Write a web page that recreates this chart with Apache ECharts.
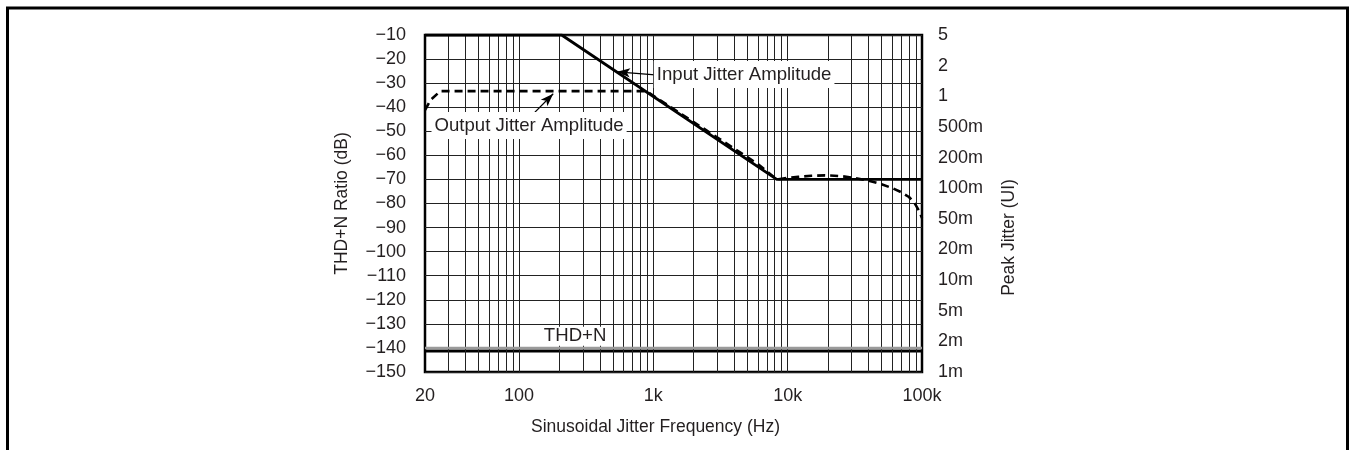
<!DOCTYPE html>
<html>
<head>
<meta charset="utf-8">
<script src="https://cdn.jsdelivr.net/npm/echarts@6/dist/echarts.min.js"></script>
<style>
html,body{margin:0;padding:0;background:#fff;}
#c{width:1350px;height:450px;}
</style>
</head>
<body>
<div id="c"></div>
<script>
// ---- data ----
const inputFreq = [20, 208, 8300, 100000];
const inputDb   = [-10, -10, -70, -70];

const outputFreq = [20, 22, 26, 886, 3000, 6000, 8300, 10000, 12000, 15000, 19000, 25000, 32000, 40000, 50000, 60000, 70000, 80000, 88000, 95000, 100000];
const outputDb   = [-41.2, -37, -33.3, -33.3, -52.6, -63.6, -70, -69.4, -68.9, -68.5, -68.3, -68.6, -69.5, -70.5, -72, -73.6, -75.3, -77.3, -79.8, -83, -86];

const thdFreq = [20, 100000];
const thdDb   = [-141.3, -141.3];
const thdRefDb = [-140, -140];

const xTickLabels = {20: '20', 100: '100', 1000: '1k', 10000: '10k', 100000: '100k'};
const jitterLabels = ['1m', '2m', '5m', '10m', '20m', '50m', '100m', '200m', '500m', '1', '2', '5'];
const gridFreqs = [30,40,50,60,70,80,90,100,200,300,400,500,600,700,800,900,
  1000,2000,3000,4000,5000,6000,7000,8000,9000,
  10000,20000,30000,40000,50000,60000,70000,80000,90000];

// annotation anchors (data coords)
const inputArrow  = [[1032, -26.6], [538, -25.3]];
const outputArrow = [[121, -44.1], [180, -34.4]];
const inputLabelPos  = [4743, -26.4];
const outputLabelPos = [119, -47.6];
const thdLabelPos    = [262, -135.1];

const pair = (xs, ys) => xs.map((x, i) => [x, ys[i]]);
const txt = '#231f20';
const font = '"Liberation Sans", Arial, Helvetica, sans-serif';
const annSize = 18.6;

const chart = echarts.init(document.getElementById('c'), null, {renderer: 'canvas'});
chart.setOption({
  animation: false,
  backgroundColor: '#fff',
  textStyle: {fontFamily: font, color: txt},
  grid: {left: 425, right: 428, top: 35, bottom: 78, show: true, borderColor: '#000', borderWidth: 2.5, backgroundColor: 'transparent'},
  xAxis: {
    type: 'log', logBase: 10, min: 20, max: 100000,
    axisLine: {show: false}, axisTick: {show: false},
    splitLine: {show: false}, minorSplitLine: {show: false},
    axisLabel: {
      color: txt, fontSize: 18, fontFamily: font, margin: 15, showMinLabel: true, showMaxLabel: true,
      formatter: v => { const r = Math.round(v); return xTickLabels[r] !== undefined ? xTickLabels[r] : ''; }
    },
    name: 'Sinusoidal Jitter Frequency (Hz)', nameLocation: 'middle', nameGap: 46,
    nameTextStyle: {color: txt, fontSize: 17.5, fontFamily: font, padding: [0, 36, 0, 0]}
  },
  yAxis: [{
    type: 'value', min: -150, max: -10, interval: 10,
    axisLine: {show: false}, axisTick: {show: false},
    splitLine: {show: true, lineStyle: {color: '#222', width: 1}},
    axisLabel: {color: txt, fontSize: 18, fontFamily: font, margin: 19,
      formatter: v => String(v).replace('-', '\u2212')},
    name: 'THD+N Ratio (dB)', nameLocation: 'middle', nameGap: 74, nameRotate: 90,
    nameTextStyle: {color: txt, fontSize: 17.5, fontFamily: font}
  }, {
    type: 'value', min: 0, max: 11, interval: 1, position: 'right',
    axisLine: {show: false}, axisTick: {show: false}, splitLine: {show: false},
    axisLabel: {color: txt, fontSize: 18, fontFamily: font, margin: 16,
      formatter: v => jitterLabels[Math.round(v)] || ''},
    name: 'Peak Jitter (UI)', nameLocation: 'middle', nameGap: 78, nameRotate: 90,
    nameTextStyle: {color: txt, fontSize: 17.5, fontFamily: font, padding: [0, 68, 0, 0]}
  }],
  series: [
    {
      name: 'grid', type: 'line', z: 1, data: [[20, -150]], showSymbol: false, symbol: 'none',
      lineStyle: {opacity: 0}, silent: true,
      markLine: {
        silent: true, symbol: 'none', animation: false,
        label: {show: false},
        lineStyle: {color: '#222', width: 1, type: 'solid'},
        emphasis: {disabled: true},
        data: gridFreqs.map(f => ({xAxis: f}))
      }
    },
    {
      name: 'THD+N', type: 'line', z: 4, data: pair(thdFreq, thdDb), symbol: 'none',
      lineStyle: {color: '#000', width: 3},
      markPoint: {
        symbol: 'rect', symbolSize: 0, silent: true,
        label: {show: true, position: 'inside', formatter: 'THD+N', color: txt, fontSize: annSize, fontFamily: font,
          backgroundColor: '#fff', padding: [0, 3, 0, 3]},
        data: [{coord: thdLabelPos}]
      }
    },
    {
      name: 'THD+N ref', type: 'line', z: 5, data: pair(thdFreq, thdRefDb), symbol: 'none',
      lineStyle: {color: '#9a9a9a', width: 2.5}
    },
    {
      name: 'Output Jitter Amplitude', type: 'line', z: 5, data: pair(outputFreq, outputDb), symbol: 'none',
      lineStyle: {color: '#000', width: 2.6, type: [8, 5]},
      markLine: {
        silent: true, symbol: ['none', 'arrow'], symbolSize: [7, 13], label: {show: false},
        lineStyle: {color: '#000', width: 1.2, type: 'solid'},
        data: [[{coord: outputArrow[0]}, {coord: outputArrow[1]}]]
      },
      markPoint: {
        symbol: 'rect', symbolSize: 0, silent: true,
        label: {show: true, position: 'inside', formatter: 'Output Jitter Amplitude', color: txt, fontSize: annSize, fontFamily: font,
          backgroundColor: '#fff', padding: [4, 3]},
        data: [{coord: outputLabelPos}]
      }
    },
    {
      name: 'Input Jitter Amplitude', type: 'line', z: 6, data: pair(inputFreq, inputDb), symbol: 'none',
      lineStyle: {color: '#000', width: 2.8},
      markLine: {
        silent: true, symbol: ['none', 'arrow'], symbolSize: [7, 13], label: {show: false},
        lineStyle: {color: '#000', width: 1.2, type: 'solid'},
        data: [[{coord: inputArrow[0]}, {coord: inputArrow[1]}]]
      },
      markPoint: {
        symbol: 'rect', symbolSize: 0, silent: true,
        label: {show: true, position: 'inside', formatter: 'Input Jitter Amplitude', color: txt, fontSize: annSize, fontFamily: font,
          backgroundColor: '#fff', padding: [4, 3]},
        data: [{coord: inputLabelPos}]
      }
    }
  ],
  graphic: [{
    type: 'polyline', silent: true,
    shape: {points: [[7.5, 450], [7.5, 8], [1347.5, 8], [1347.5, 450]]},
    style: {stroke: '#000', lineWidth: 3, fill: null}
  }]
});
</script>
</body>
</html>
